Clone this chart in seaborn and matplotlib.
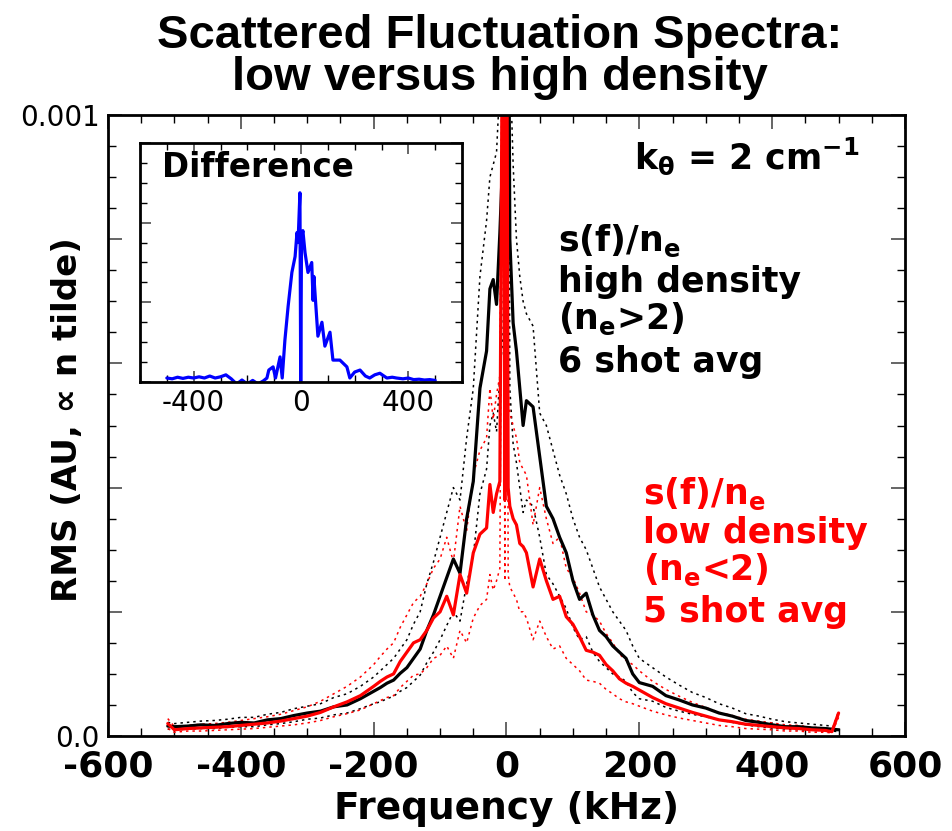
import numpy as np
import matplotlib
matplotlib.use('Agg')
import matplotlib.pyplot as plt
import seaborn as sns
from matplotlib.ticker import FixedLocator, FixedFormatter, MultipleLocator, NullFormatter

# ---------------- data (values in units of 1e-4) ----------------
F = [-510, -500,
     -480, -460, -440, -420, -400, -380, -360, -340, -320, -300, -280, -260, -240, -220, -200,
     -190, -180, -170, -160, -150, -140, -130, -120, -110, -100, -90, -80, -70, -60, -50, -40, -30,
     -25, -20, -15, -10, -5, -2.5, 0, 2.5, 5, 10, 15, 20, 25,
     30, 40, 50, 60, 70, 80, 90, 100, 110, 120, 130, 140, 150, 160, 170, 180, 190, 200,
     220, 240, 260, 280, 300, 320, 340, 360, 380, 400, 420, 440, 460, 480,
     490, 500]

HI = [0.16, 0.15,
      0.16, 0.18, 0.17, 0.20, 0.22, 0.21, 0.26, 0.28, 0.33, 0.37, 0.40, 0.47, 0.50, 0.60, 0.72,
      0.78, 0.85, 0.90, 1.01, 1.10, 1.25, 1.40, 1.70, 1.95, 2.25, 2.55, 2.85, 2.62, 3.50, 4.10, 5.60, 6.20,
      7.20, 7.35, 6.95, 8.10, 9.50, 14, 14, 14, 8.0, 6.65, 6.2, 5.6, 5.0,
      5.4, 5.3, 4.5, 3.7, 3.5, 3.2, 2.95, 2.5, 2.2, 2.3, 1.95, 1.7, 1.6, 1.45, 1.35, 1.25, 1.0, 0.86,
      0.80, 0.65, 0.58, 0.50, 0.45, 0.37, 0.32, 0.25, 0.22, 0.18, 0.15, 0.15, 0.13, 0.12,
      0.11, 0.10]

LO = [0.20, 0.10,
      0.12, 0.13, 0.14, 0.15, 0.17, 0.19, 0.21, 0.24, 0.28, 0.32, 0.38, 0.47, 0.55, 0.65, 0.80,
      0.88, 0.95, 1.00, 1.20, 1.35, 1.50, 1.55, 1.70, 1.90, 2.00, 2.25, 1.95, 2.60, 2.30, 2.95, 3.25, 3.35,
      4.05, 3.60, 3.90, 4.10, 14, 3.8, 14, 4.0, 3.7, 3.5, 3.4, 3.1, 3.05,
      2.95, 2.4, 2.85, 2.5, 2.2, 2.25, 1.92, 1.8, 1.6, 1.38, 1.35, 1.30, 1.15, 1.05, 0.92, 0.85, 0.80, 0.74,
      0.62, 0.52, 0.45, 0.38, 0.32, 0.26, 0.23, 0.19, 0.17, 0.15, 0.13, 0.12, 0.10, 0.09,
      0.07, 0.37]

HI_UP = [0.22, 0.20,
         0.22, 0.24, 0.25, 0.27, 0.30, 0.30, 0.35, 0.38, 0.44, 0.48, 0.52, 0.62, 0.68, 0.80, 0.95,
         1.05, 1.15, 1.25, 1.40, 1.55, 1.80, 2.00, 2.45, 2.80, 3.20, 3.60, 4.00, 3.80, 4.80, 5.60, 7.40, 8.30,
         9.0, 9.2, 9.4, 10.5, 14, 14, 14, 14, 11, 9.2, 8.0, 7.4, 7.0,
         6.8, 6.6, 5.2, 5.0, 4.6, 4.2, 3.9, 3.5, 3.2, 3.0, 2.7, 2.4, 2.2, 2.0, 1.85, 1.70, 1.45, 1.25,
         1.10, 0.95, 0.82, 0.70, 0.62, 0.52, 0.45, 0.36, 0.32, 0.27, 0.23, 0.21, 0.19, 0.17,
         0.16, 0.15]

HI_LO = [0.11, 0.10,
         0.11, 0.12, 0.12, 0.14, 0.15, 0.15, 0.18, 0.20, 0.23, 0.27, 0.29, 0.34, 0.37, 0.44, 0.52,
         0.55, 0.60, 0.64, 0.72, 0.78, 0.88, 0.98, 1.18, 1.35, 1.55, 1.78, 2.00, 1.85, 2.45, 2.90, 3.90, 4.30,
         5.0, 5.2, 4.9, 5.8, 6.5, 14, 14, 14, 5.6, 4.7, 4.4, 4.0, 3.6,
         3.8, 3.7, 3.2, 2.6, 2.45, 2.25, 2.05, 1.75, 1.55, 1.6, 1.35, 1.2, 1.1, 1.0, 0.95, 0.88, 0.70, 0.60,
         0.56, 0.46, 0.40, 0.35, 0.31, 0.26, 0.22, 0.18, 0.15, 0.13, 0.11, 0.10, 0.09, 0.08,
         0.08, 0.07]

LO_UP = [0.28, 0.15,
         0.17, 0.19, 0.20, 0.22, 0.25, 0.28, 0.31, 0.35, 0.41, 0.47, 0.56, 0.68, 0.80, 0.95, 1.15,
         1.28, 1.40, 1.50, 1.75, 1.95, 2.15, 2.25, 2.45, 2.70, 2.85, 3.20, 2.80, 3.70, 3.30, 4.20, 4.60, 4.80,
         5.6, 5.1, 5.5, 5.8, 14, 5.4, 14, 5.6, 5.2, 5.0, 4.8, 4.4, 4.3,
         4.2, 3.4, 4.0, 3.5, 3.1, 3.2, 2.7, 2.55, 2.3, 2.0, 1.95, 1.85, 1.65, 1.5, 1.32, 1.22, 1.15, 1.05,
         0.88, 0.75, 0.64, 0.54, 0.46, 0.38, 0.33, 0.27, 0.24, 0.21, 0.18, 0.17, 0.14, 0.13,
         0.10, 0.40]

LO_LO = [0.12, 0.06,
         0.08, 0.08, 0.09, 0.10, 0.11, 0.12, 0.14, 0.16, 0.18, 0.21, 0.25, 0.31, 0.36, 0.42, 0.52,
         0.57, 0.62, 0.65, 0.78, 0.88, 0.98, 1.00, 1.10, 1.25, 1.30, 1.45, 1.25, 1.70, 1.50, 1.90, 2.10, 2.20,
         2.6, 2.35, 2.5, 2.7, 14, 2.5, 14, 2.6, 2.4, 2.3, 2.2, 2.0, 2.0,
         1.9, 1.55, 1.85, 1.6, 1.4, 1.45, 1.25, 1.15, 1.05, 0.90, 0.88, 0.85, 0.75, 0.68, 0.60, 0.55, 0.52, 0.48,
         0.40, 0.34, 0.29, 0.25, 0.21, 0.17, 0.15, 0.12, 0.11, 0.10, 0.08, 0.08, 0.06, 0.06,
         0.05, 0.30]

# inset: difference spectrum
BF = [-500, -480, -460, -440, -420, -400, -380, -360, -340, -320,
      -300, -280, -260, -240, -220, -200, -180, -160, -140, -127,
      -120, -104, -95, -78, -70, -60, -48, -34, -22, -15,
      -11, -4, -1, 2, 7, 15, 26, 40, 45, 48,
      63, 78, 89, 108, 119, 145, 171, 182, 200, 220,
      240, 256, 275, 294, 320, 340, 356, 380, 400, 420,
      440, 460, 480, 500]
DIFF = [0.10, 0.08, 0.12, 0.09, 0.12, 0.10, 0.13, 0.10, 0.15, 0.10,
        0.13, 0.18, 0.08, -0.05, 0.05, -0.05, 0.04, -0.05, 0.03, 0.10,
        0.30, 0.38, 0.10, 0.63, 0.10, 1.05, 1.90, 2.75, 3.15, 3.75,
        3.50, 4.75, 0.00, 3.60, 3.80, 3.25, 2.75, 3.00, 2.05, 2.65,
        1.15, 1.50, 0.90, 1.25, 0.55, 0.55, 0.38, 0.10, 0.25, 0.30,
        0.15, 0.10, 0.18, 0.22, 0.10, 0.12, 0.10, 0.08, 0.10, 0.06,
        0.07, 0.05, 0.06, 0.04]

SCALE = 1e-4
XT = [-600, -400, -200, 0, 200, 400, 600]
XL = ['-600', '-400', '-200', '0', '200', '400', '600']
YT = [0.0, 0.0002, 0.0004, 0.0006, 0.0008, 0.001]
YL = ['0.0', '', '', '', '', '0.001']
IXT = [-400, 0, 400]
IXL = ['-400', '0', '400']

TITLE = "Scattered Fluctuation Spectra:\nlow versus high density"
BLACK_TXT = ['s(f)/n$_e$', 'high density', '(n$_e$>2)', '6 shot avg']
RED_TXT = ['s(f)/n$_e$', 'low density', '(n$_e$<2)', '5 shot avg']

# ---------------- style ----------------
sns.set_style('ticks')
plt.rcParams['font.family'] = ['DejaVu Sans']
plt.rcParams['mathtext.fontset'] = 'dejavusans'
plt.rcParams['mathtext.default'] = 'bf'
for key in ['text.color', 'axes.labelcolor', 'xtick.color', 'ytick.color',
            'xtick.labelcolor', 'ytick.labelcolor', 'axes.edgecolor']:
    plt.rcParams[key] = 'black'

W, H = 953, 831
fig = plt.figure(figsize=(W / 100, H / 100), dpi=100)
fig.patch.set_facecolor('white')


def fx(px):
    return px / W


def fy(py):
    return 1 - py / H


ax = fig.add_axes([fx(108), fy(736), (905 - 108) / W, (736 - 115) / H])
DOT = (0, (1.6, 2.6))
for vals, col in [(HI_UP, 'black'), (HI_LO, 'black'), (LO_UP, 'red'), (LO_LO, 'red')]:
    sns.lineplot(x=F, y=np.array(vals) * SCALE, ax=ax, color=col, linewidth=1.1,
                 linestyle=DOT, sort=False, estimator=None)
sns.lineplot(x=F, y=np.array(HI) * SCALE, ax=ax, color='black', linewidth=2.3,
             sort=False, estimator=None)
sns.lineplot(x=F, y=np.array(LO) * SCALE, ax=ax, color='#ff0000', linewidth=2.3,
             sort=False, estimator=None)

ax.set_xlim(-600, 600)
ax.set_ylim(0, 0.001)
ax.xaxis.set_major_locator(FixedLocator(XT))
ax.xaxis.set_major_formatter(FixedFormatter(XL))
ax.xaxis.set_minor_locator(MultipleLocator(50))
ax.yaxis.set_major_locator(FixedLocator(YT))
ax.yaxis.set_major_formatter(FixedFormatter(YL))
ax.yaxis.set_minor_locator(MultipleLocator(0.00005))
ax.tick_params(which='both', direction='in', top=True, right=True)
ax.tick_params(which='major', length=10, width=1.3, color='0.35')
ax.tick_params(which='minor', length=6, width=1.0, color='black')
ax.tick_params(axis='x', labelsize=26, pad=10, labelcolor='black')
ax.tick_params(axis='y', labelsize=20, pad=6, labelcolor='black')
for lab in ax.get_xticklabels():
    lab.set_fontweight('bold')
for sp in ax.spines.values():
    sp.set_linewidth(2.0)
    sp.set_color('black')

ax.set_xlabel('Frequency (kHz)', fontsize=27, fontweight='bold', color='black')
ax.xaxis.set_label_coords(0.5, (736 - 791) / 621)
ax.set_ylabel('RMS (AU, \u221d n tilde)', fontsize=24.5, fontweight='bold', color='black')
ax.yaxis.set_label_coords((84 - 108) / 797, 0.51)

ax.set_title(TITLE, fontsize=34, fontweight='bold', family=['Liberation Sans', 'DejaVu Sans'],
             linespacing=0.95, pad=18, x=(500 - 108) / 797, color='black')

# annotations
fig.text(fx(634), fy(169), 'k$_{\\theta}$ = 2 cm$^{-1}$', fontsize=25, fontweight='bold',
         ha='left', va='baseline', color='black')
for txt, base in zip(BLACK_TXT, [251, 292, 329, 372]):
    fig.text(fx(558), fy(base), txt, fontsize=25, fontweight='bold', color='black',
             ha='left', va='baseline')
for txt, base in zip(RED_TXT, [504, 543, 580, 622]):
    fig.text(fx(643), fy(base), txt, fontsize=25, fontweight='bold', color='#ff0000',
             ha='left', va='baseline')

# ---------------- inset ----------------
axin = fig.add_axes([fx(140), fy(382), 322 / W, 239 / H])
axin.set_facecolor('white')
sns.lineplot(x=BF, y=np.array(DIFF) * SCALE, ax=axin, color='#0000ff', linewidth=2.3,
             sort=False, estimator=None)
axin.set_xlim(-600, 600)
axin.set_ylim(0, 0.0006)
axin.xaxis.set_major_locator(FixedLocator(IXT))
axin.xaxis.set_major_formatter(FixedFormatter(IXL))
axin.xaxis.set_minor_locator(MultipleLocator(100))
axin.yaxis.set_major_locator(FixedLocator([0, 0.0002, 0.0004, 0.0006]))
axin.yaxis.set_major_formatter(NullFormatter())
axin.yaxis.set_minor_locator(MultipleLocator(0.00005))
axin.tick_params(which='both', direction='in', top=True, right=True)
axin.tick_params(which='major', length=8, width=1.2, color='0.3')
axin.tick_params(which='minor', length=5, width=1.0, color='black')
axin.tick_params(axis='x', labelsize=20, pad=5, labelcolor='black')
axin.set_xlabel('')
axin.set_ylabel('')
for sp in axin.spines.values():
    sp.set_linewidth(2.0)
    sp.set_color('black')
fig.text(fx(162), fy(177), 'Difference', fontsize=23.5, fontweight='bold',
         ha='left', va='baseline', zorder=5, color='black')

fig.savefig('out.png', dpi=100, facecolor='white')
